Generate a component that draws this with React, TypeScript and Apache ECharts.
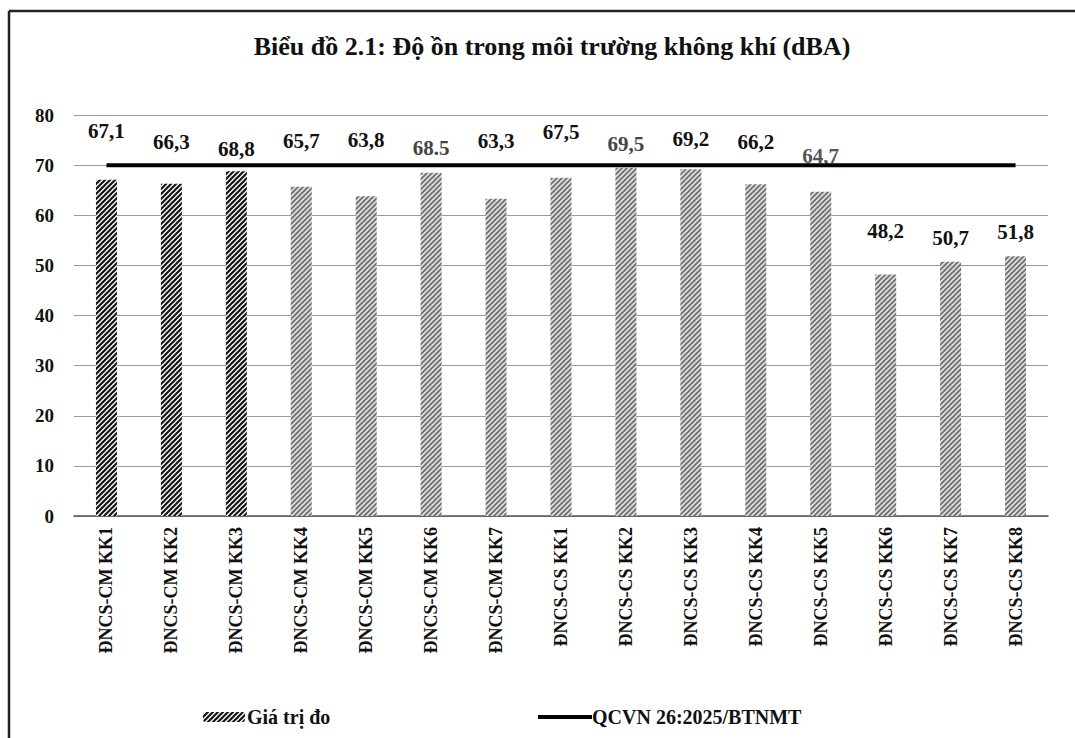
import React, { useEffect, useRef } from "react";
import * as echarts from "echarts";

const categories = [
  "ĐNCS-CM KK1", "ĐNCS-CM KK2", "ĐNCS-CM KK3", "ĐNCS-CM KK4", "ĐNCS-CM KK5",
  "ĐNCS-CM KK6", "ĐNCS-CM KK7", "ĐNCS-CS KK1", "ĐNCS-CS KK2", "ĐNCS-CS KK3",
  "ĐNCS-CS KK4", "ĐNCS-CS KK5", "ĐNCS-CS KK6", "ĐNCS-CS KK7", "ĐNCS-CS KK8",
];
const measured = [67.1, 66.3, 68.8, 65.7, 63.8, 68.5, 63.3, 67.5, 69.5, 69.2, 66.2, 64.7, 48.2, 50.7, 51.8];
const valueLabels = ["67,1", "66,3", "68,8", "65,7", "63,8", "68.5", "63,3", "67,5", "69,5", "69,2", "66,2", "64,7", "48,2", "50,7", "51,8"];
const limitValue = [70, 70, 70, 70, 70, 70, 70, 70, 70, 70, 70, 70, 70, 70, 70];
const yTicks = { min: 0, max: 80, interval: 10 };

// label styling (vertical lift of each value label, and its tone)
const labelLift = [-33, -26, -7, -30, -41, -9, -42, -30, -8, -15, -27, -20, -28, -8, -9];
const labelTone = ["#111", "#111", "#111", "#111", "#111", "#444", "#111", "#111", "#444", "#111", "#111", "#555", "#111", "#111", "#111"];
const darkCount = 3;

const FONT = "'Liberation Serif', 'Times New Roman', serif";

function hatch(bg: string, fg: string, size: number, lw: number) {
  const c = document.createElement("canvas");
  c.width = size;
  c.height = size;
  const ctx = c.getContext("2d")!;
  ctx.fillStyle = bg;
  ctx.fillRect(0, 0, size, size);
  ctx.strokeStyle = fg;
  ctx.lineWidth = lw;
  ctx.lineCap = "square";
  const seg = (x1: number, y1: number, x2: number, y2: number) => {
    ctx.beginPath();
    ctx.moveTo(x1, y1);
    ctx.lineTo(x2, y2);
    ctx.stroke();
  };
  seg(-1, size + 1, size + 1, -1);
  seg(-1, 1, 1, -1);
  seg(size - 1, size + 1, size + 1, size - 1);
  return { image: c, repeat: "repeat" } as any;
}

export default function App() {
  const ref = useRef<HTMLDivElement>(null);
  useEffect(() => {
    if (!ref.current) return;
    const chart = echarts.init(ref.current, null, { renderer: "svg" });
    const darkFill = hatch("#f2f2f2", "#111", 5, 2);
    const grayFill = hatch("#dcdcdc", "#6c6c6c", 5, 1.6);
    const barData = measured.map((v, i) => ({
      value: v,
      itemStyle: { color: i < darkCount ? darkFill : grayFill },
      label: { offset: [0, labelLift[i]], color: labelTone[i] },
    }));
    chart.setOption({
      animation: false,
      backgroundColor: "#fff",
      title: {
        text: "Biểu đồ 2.1: Độ ồn trong môi trường không khí (dBA)",
        left: 547,
        textAlign: "center",
        top: 28,
        textStyle: { fontFamily: FONT, fontWeight: "bold", fontSize: 26, color: "#111" },
      },
      graphic: [
        { type: "line", shape: { x1: 9, y1: 11, x2: 1075, y2: 11 }, style: { stroke: "#222", lineWidth: 2.5 } },
        { type: "line", shape: { x1: 9, y1: 11, x2: 9, y2: 738 }, style: { stroke: "#222", lineWidth: 2.5 } },
      ],
      legend: [
        {
          data: ["Giá trị đo"],
          left: 198,
          top: 702,
          itemWidth: 42,
          itemHeight: 10,
          itemGap: 4,
          textStyle: { fontFamily: FONT, fontWeight: "bold", fontSize: 20, color: "#111", padding: [0, 0, 0, -3] },
        },
        {
          data: [{ name: "QCVN 26:2025/BTNMT", icon: "rect" }],
          left: 533,
          top: 702,
          itemWidth: 54,
          itemHeight: 4,
          textStyle: { fontFamily: FONT, fontWeight: "bold", fontSize: 20, color: "#111", padding: [0, 0, 0, -5] },
        },
      ],
      grid: { left: 74, right: 27, top: 115, bottom: 222 },
      xAxis: {
        type: "category",
        data: categories,
        axisLine: { show: true, lineStyle: { color: "#555", width: 1.5 } },
        axisTick: { show: false },
        axisLabel: {
          rotate: 90,
          margin: 11,
          interval: 0,
          fontFamily: FONT,
          fontWeight: "bold",
          fontSize: 18,
          color: "#111",
        },
      },
      yAxis: {
        type: "value",
        min: yTicks.min,
        max: yTicks.max,
        interval: yTicks.interval,
        axisLine: { show: false },
        axisTick: { show: false },
        splitLine: { lineStyle: { color: "#9a9a9a", width: 1 } },
        axisLabel: {
          margin: 20,
          fontFamily: FONT,
          fontWeight: "bold",
          fontSize: 19,
          color: "#111",
        },
      },
      series: [
        {
          name: "Giá trị đo",
          type: "bar",
          data: barData,
          barWidth: 21,
          itemStyle: { color: darkFill },
          label: {
            show: true,
            position: "top",
            fontFamily: FONT,
            fontWeight: "bold",
            fontSize: 21,
            formatter: (p: any) => valueLabels[p.dataIndex],
          },
          z: 2,
        },
        {
          name: "QCVN 26:2025/BTNMT",
          type: "line",
          data: limitValue,
          symbol: "none",
          lineStyle: { color: "#000", width: 4 },
          itemStyle: { color: "#000" },
          z: 3,
        },
      ],
    });
    return () => chart.dispose();
  }, []);
  return (
    <div
      ref={ref}
      style={{ position: "absolute", left: 0, top: 0, width: 1075, height: 738, background: "#fff" }}
    />
  );
}
